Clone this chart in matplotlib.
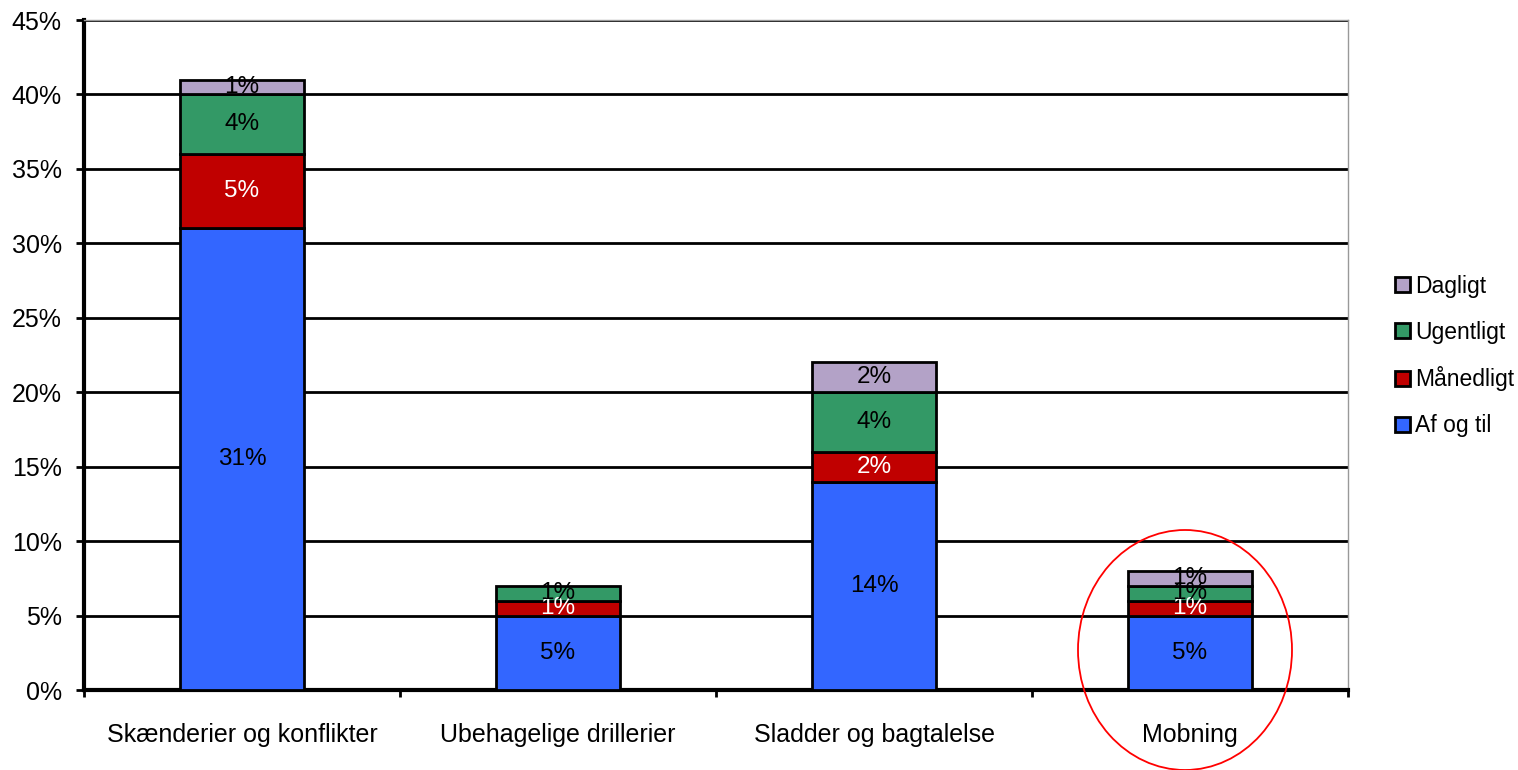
import matplotlib
matplotlib.use("Agg")
import matplotlib.pyplot as plt
from matplotlib.patches import Ellipse, Patch
import numpy as np

plt.rcParams['font.family'] = ['Liberation Sans', 'DejaVu Sans']

categories = ["Skænderier og konflikter", "Ubehagelige drillerier", "Sladder og bagtalelse", "Mobning"]
series_names = ["Af og til", "Månedligt", "Ugentligt", "Dagligt"]
af_og_til = [31, 5, 14, 5]
maanedligt = [5, 1, 2, 1]
ugentligt = [4, 1, 4, 1]
dagligt = [1, 0, 2, 1]
colors = ["#3366FF", "#C00000", "#339966", "#B3A2C7"]
label_colors = ["black", "white", "black", "black"]
yticks = [0, 5, 10, 15, 20, 25, 30, 35, 40, 45]

series = [af_og_til, maanedligt, ugentligt, dagligt]

fig = plt.figure(figsize=(15.18, 7.70), dpi=100)
ax = fig.add_axes([84/1518, 1-690/770, (1348-84)/1518, (690-20)/770])

x = np.arange(len(categories))
bottom = np.zeros(len(categories))
fs_tick = 18
fs_lab = 17.5
for vals, col, lc, name in zip(series, colors, label_colors, series_names):
    vals = np.array(vals, dtype=float)
    mask = vals > 0
    ax.bar(x[mask], vals[mask], bottom=bottom[mask], width=0.39, color=col,
           edgecolor="black", linewidth=2, label=name, zorder=3)
    for xi, v, b in zip(x, vals, bottom):
        if v > 0:
            ax.text(xi, b + v/2, f"{int(v)}%", ha="center", va="center",
                    color=lc, fontsize=fs_lab, zorder=4)
    bottom += vals

ax.set_xlim(-0.5, len(categories) - 0.5)
ax.set_ylim(0, 45)
ax.set_yticks(yticks)
ax.set_yticklabels([f"{t}%" for t in yticks], fontsize=fs_tick)
ax.yaxis.grid(True, color="black", linewidth=2, zorder=0)
ax.set_axisbelow(True)
ax.set_xticks(x)
ax.set_xticklabels(categories, fontsize=fs_tick)
ax.tick_params(axis="x", length=0, pad=24)
ax.set_xticks(np.arange(len(categories) + 1) - 0.5, minor=True)
ax.tick_params(axis="x", which="minor", length=5, width=2)
ax.tick_params(axis="y", length=6, width=2, pad=10)
for s in ["left", "bottom"]:
    ax.spines[s].set_linewidth(3)
    ax.spines[s].set_color("black")
for s in ["top", "right"]:
    ax.spines[s].set_color("#999999")
    ax.spines[s].set_linewidth(1)

handles = [Patch(facecolor=c, edgecolor="black", linewidth=2) for c in colors]
leg = fig.legend(handles[::-1], series_names[::-1], loc="center left",
                 bbox_to_anchor=(1384/1518, 1-356/770), frameon=False,
                 fontsize=16.5, handlelength=0.65, handleheight=0.65,
                 handletextpad=0.2, labelspacing=1.0, borderpad=0)

ell = Ellipse((1185/1518, 1-650/770), 214/1518, 240/770, transform=fig.transFigure,
              fill=False, edgecolor="red", linewidth=1.3, zorder=10)
fig.patches.append(ell)

fig.savefig("out.png", dpi=100)
